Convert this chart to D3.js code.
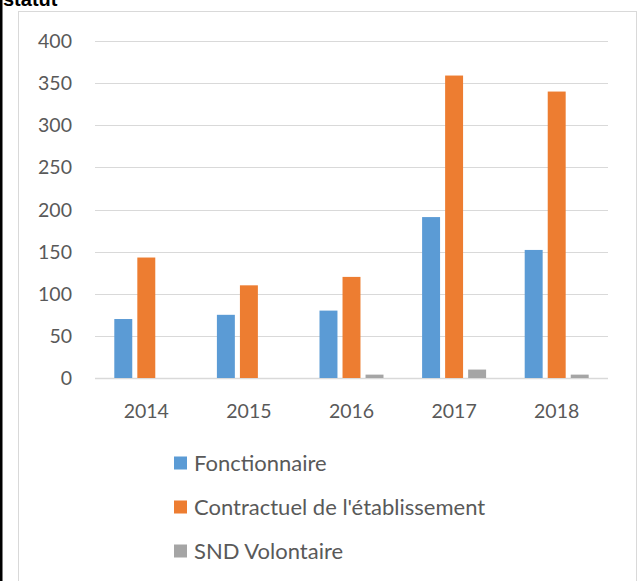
<!DOCTYPE html>
<html>
<head>
<meta charset="utf-8">
<script src="https://cdn.jsdelivr.net/npm/d3@7"></script>
<style>
  body { margin: 0; background: #fff; }
  svg { display: block; }
</style>
</head>
<body>
<div id="chart"></div>
<script>
// --- data ---
const years = ["2014", "2015", "2016", "2017", "2018"];
const seriesNames = ["Fonctionnaire", "Contractuel de l'établissement", "SND Volontaire"];
const fonctionnaire = [70, 75, 80, 191, 152];
const contractuel = [143, 110, 120, 359, 340];
const sndVolontaire = [0, 0, 4, 10, 4];
const colors = ["#5b9bd5", "#ed7d31", "#a5a5a5"];
const yTicks = [0, 50, 100, 150, 200, 250, 300, 350, 400];

const W = 638, H = 581;
const svg = d3.select("#chart").append("svg")
    .attr("width", W).attr("height", H);

// page border + chart frame
svg.append("rect").attr("x", 0).attr("y", 0).attr("width", 2.5).attr("height", H).attr("fill", "#000");
svg.append("rect").attr("x", 18.5).attr("y", 11.5).attr("width", 618).attr("height", H)
    .attr("fill", "none").attr("stroke", "#d9d9d9").attr("stroke-width", 1);

// title, cut off by the top edge as in the source
svg.append("text").attr("x", 3).attr("y", 6)
    .attr("font-family", "Liberation Sans, Arial, sans-serif")
    .attr("font-weight", "bold").attr("font-size", 20).attr("fill", "#000")
    .text("statut");

const x = d3.scaleBand().domain(years).range([95, 608]);
const y = d3.scaleLinear().domain([0, 400]).range([378, 41]);
const groupW = 64;
const x1 = d3.scaleBand().domain(d3.range(3)).range([0, groupW]).paddingInner(0.22);

const font = "Lato, 'Open Sans', sans-serif";

// gridlines
svg.append("g").selectAll("line").data(yTicks).enter().append("line")
    .attr("x1", 95).attr("x2", 608)
    .attr("y1", d => Math.round(y(d)) + 0.5).attr("y2", d => Math.round(y(d)) + 0.5)
    .attr("stroke", "#d9d9d9").attr("stroke-width", d => d === 0 ? 1.5 : 1);

// y labels
svg.append("g").selectAll("text").data(yTicks).enter().append("text")
    .attr("x", 72).attr("y", d => y(d) + 7)
    .attr("text-anchor", "end").attr("font-family", font).attr("font-size", 19.5)
    .attr("fill", "#595959").text(d => d);

// x labels
svg.append("g").selectAll("text").data(years).enter().append("text")
    .attr("x", d => x(d) + x.bandwidth() / 2).attr("y", 418)
    .attr("text-anchor", "middle").attr("font-family", font).attr("font-size", 19.5)
    .attr("fill", "#595959").text(d => d);

// bars
const series = [fonctionnaire, contractuel, sndVolontaire];
const groups = svg.append("g").selectAll("g").data(years).enter().append("g")
    .attr("transform", d => `translate(${x(d) + x.bandwidth() / 2 - groupW / 2},0)`);

groups.selectAll("rect")
    .data((d, i) => series.map((s, k) => ({ k: k, v: s[i] })))
    .enter().append("rect")
    .attr("x", d => x1(d.k))
    .attr("width", x1.bandwidth())
    .attr("y", d => y(d.v))
    .attr("height", d => y(0) - y(d.v))
    .attr("fill", d => colors[d.k]);

// legend
const legend = svg.append("g").selectAll("g").data(seriesNames).enter().append("g")
    .attr("transform", (d, i) => `translate(174,${463 + i * 44})`);
legend.append("rect").attr("x", 0).attr("y", -6.5).attr("width", 13).attr("height", 13)
    .attr("fill", (d, i) => colors[i]);
legend.append("text").attr("x", 20).attr("y", 8)
    .attr("font-family", font).attr("font-size", 22).attr("fill", "#595959")
    .text(d => d);
</script>
</body>
</html>
